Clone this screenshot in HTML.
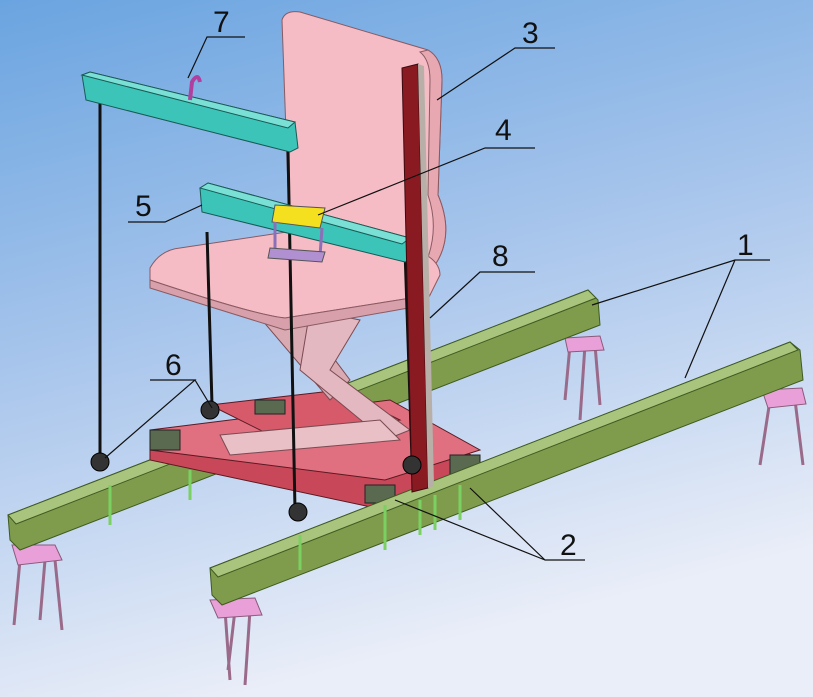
<!DOCTYPE html>
<html><head><style>html,body{margin:0;padding:0;width:813px;height:697px;overflow:hidden}</style></head>
<body>
<svg width="813" height="697" viewBox="0 0 813 697" xmlns="http://www.w3.org/2000/svg" font-family="Liberation Sans, sans-serif">
<defs>
<linearGradient id="bg" x1="0" y1="0" x2="0.3" y2="1">
<stop offset="0" stop-color="#6aa4e0"/><stop offset="0.5" stop-color="#a9c6ec"/><stop offset="1" stop-color="#eaeef8"/>
</linearGradient>
</defs>
<rect width="813" height="697" fill="url(#bg)"/>
<!-- legs -->
<g stroke="#9a6a8a" stroke-width="3" fill="none">
<path d="M20 560 L14 625 M55 560 L62 630 M45 560 L40 620"/>
<path d="M225 610 L230 680 M250 610 L245 685 M235 610 L228 670"/>
<path d="M570 345 L565 400 M595 345 L600 405 M585 345 L580 420"/>
<path d="M770 400 L760 465 M795 400 L803 465"/>
</g>
<g fill="#e9a0d8" stroke="#8a5a7a">
<path d="M12 545 L55 545 L62 560 L18 565 Z"/>
<path d="M210 600 L255 598 L262 615 L218 618 Z"/>
<path d="M565 338 L600 336 L604 350 L568 352 Z"/>
<path d="M762 390 L802 388 L806 404 L768 408 Z"/>
</g>
<!-- left rail -->
<path d="M8 515 L588 290 L598 300 L600 325 L20 550 L10 540 Z" fill="#7e9c4c" stroke="#3f5a22"/>
<path d="M8 515 L588 290 L596 298 L16 524 Z" fill="#a9c47c" stroke="#3f5a22"/>
<!-- platform -->
<path d="M150 440 L390 410 L480 460 L470 490 L385 510 L150 460 Z" fill="#c8485a" stroke="#5a1a22"/>
<path d="M150 430 L390 400 L480 450 L385 480 L150 450 Z" fill="#e07080" stroke="#5a1a22"/>
<path d="M210 405 L340 390 L400 420 L280 440 Z" fill="#d65a6a" stroke="#5a1a22"/>
<g fill="#5a6a50" stroke="#222">
<rect x="150" y="430" width="30" height="20"/><rect x="365" y="485" width="30" height="18"/>
<rect x="450" y="455" width="30" height="28"/><rect x="255" y="400" width="30" height="14"/>
</g>
<!-- scissor legs -->
<path d="M245 300 L290 300 L350 380 L330 400 Z" fill="#d9aab2" stroke="#7a4a52"/>
<path d="M310 310 L360 320 L330 370 L410 430 L385 440 L300 370 Z" fill="#e4b8c0" stroke="#7a4a52"/>
<path d="M220 435 L380 420 L400 440 L230 455 Z" fill="#e8c0c6" stroke="#7a4a52"/>
<!-- right rail -->
<path d="M210 568 L790 342 L800 350 L803 380 L222 605 L212 595 Z" fill="#7e9c4c" stroke="#3f5a22"/>
<path d="M210 568 L790 342 L798 350 L218 577 Z" fill="#a9c47c" stroke="#3f5a22"/>
<!-- green posts -->
<g stroke="#7ad060" stroke-width="3">
<path d="M110 485 V525 M190 470 V500 M300 535 V570 M385 505 V550 M420 500 V535 M435 495 V530 M460 485 V520"/>
</g>
<!-- chair back -->
<path d="M282 20 Q285 10 300 12 L428 50 Q442 58 442 80 L438 195 Q455 235 435 265 L290 245 Z" fill="#f6bcc6" stroke="#8a5a62"/>
<path d="M428 50 Q442 58 442 80 L438 195 Q455 235 435 265 L425 265 Q440 230 428 195 L430 80 Q430 60 420 52 Z" fill="#e8a8b2" stroke="#8a5a62"/>
<!-- seat -->
<path d="M150 268 Q160 250 180 248 L300 230 L400 245 Q440 255 440 275 L430 295 L285 318 Q255 315 150 280 Z" fill="#f6bcc6" stroke="#8a5a62"/>
<path d="M150 280 Q255 315 285 318 L430 295 L425 305 L285 330 L150 288 Z" fill="#d8a0aa" stroke="#8a5a62"/>
<!-- cables -->
<g stroke="#111" stroke-width="3">
<path d="M100 100 V460 M288 150 L295 510 M207 232 L212 405 M405 250 L412 460"/>
</g>
<!-- cyan beams -->
<path d="M82 75 L90 72 L295 122 L298 148 L290 152 L86 100 Z" fill="#3cc4b8" stroke="#1a5a55"/>
<path d="M82 75 L90 72 L295 122 L288 128 Z" fill="#7ae0d6" stroke="#1a5a55"/>
<path d="M200 188 L208 183 L410 238 L412 258 L405 262 L202 212 Z" fill="#3cc4b8" stroke="#1a5a55"/>
<path d="M200 188 L208 183 L410 238 L402 244 Z" fill="#7ae0d6" stroke="#1a5a55"/>
<path d="M275 205 L325 208 L320 228 L272 222 Z" fill="#f5e020" stroke="#555"/>
<path d="M275 222 L275 250 L320 256 L322 228" fill="none" stroke="#8a70b8" stroke-width="3"/>
<path d="M270 248 L325 252 L322 262 L268 258 Z" fill="#b090d0" stroke="#555"/>
<path d="M190 100 L192 82 Q198 72 200 82" fill="none" stroke="#b040a0" stroke-width="4"/>
<!-- red pole -->
<path d="M402 68 L418 64 L428 488 L412 492 Z" fill="#8a1a22" stroke="#3a0a0e"/>
<path d="M418 64 L424 66 L434 486 L428 488 Z" fill="#b8b0a8"/>
<!-- pulleys -->
<g fill="#333" stroke="#000">
<circle cx="100" cy="462" r="9"/><circle cx="210" cy="410" r="9"/><circle cx="298" cy="512" r="9"/><circle cx="412" cy="465" r="9"/>
</g>
<!-- leaders -->
<g stroke="#111" stroke-width="1.2" fill="none">
<path d="M245 37 H207 L188 78"/>
<path d="M555 48 H515 L437 100"/>
<path d="M535 148 H485 L318 215"/>
<path d="M128 222 H165 L202 205"/>
<path d="M535 272 H480 L430 318"/>
<path d="M770 260 H735 L592 305 M735 260 L685 378"/>
<path d="M150 380 H195 L105 458 M195 380 L212 408"/>
<path d="M585 560 H545 L470 488 M545 560 L395 500"/>
</g>
<g font-size="30" fill="#111">
<text x="213" y="32">7</text><text x="522" y="43">3</text><text x="495" y="140">4</text>
<text x="135" y="216">5</text><text x="492" y="266">8</text><text x="737" y="255">1</text>
<text x="165" y="375">6</text><text x="560" y="555">2</text>
</g>
</svg>
</body></html>
